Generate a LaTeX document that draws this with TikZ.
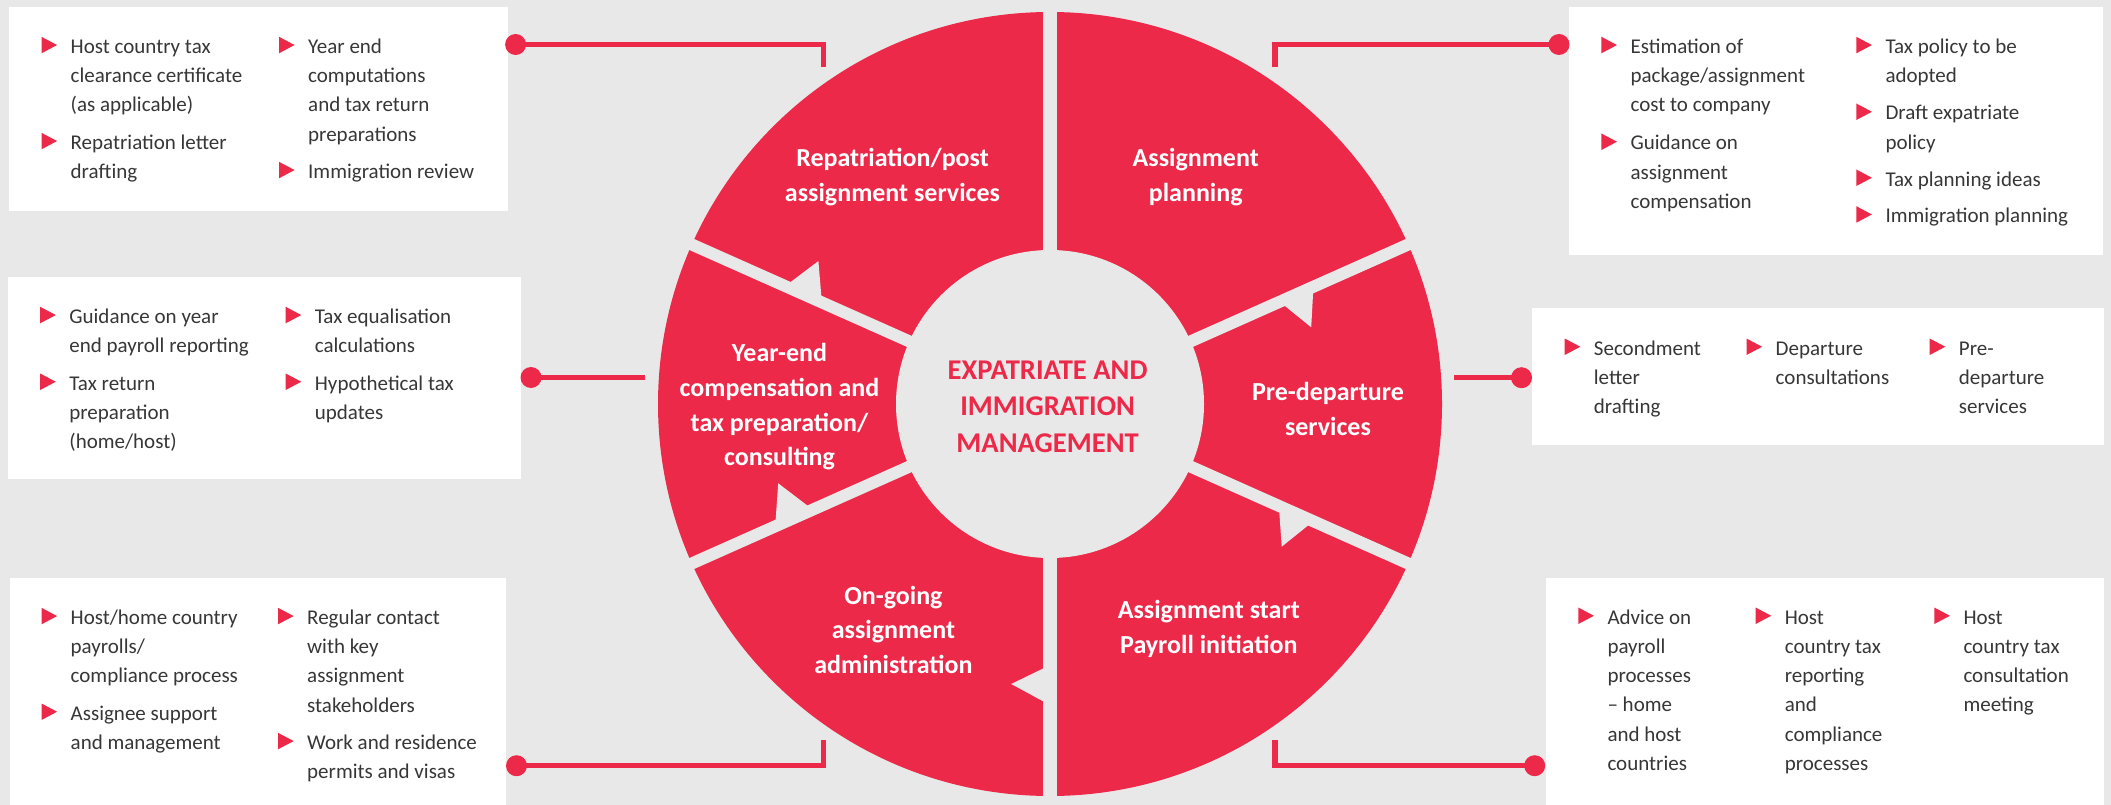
\documentclass[tikz,border=0pt]{standalone}
\usepackage{fontspec}
\setmainfont{Carlito}
\definecolor{bgc}{RGB}{232,232,232}
\definecolor{redc}{RGB}{236,41,73}
\definecolor{txt}{RGB}{55,55,55}
\tikzset{
  conn/.style={draw=redc, line width=5.5pt},
  dotc/.style={circle, fill=redc, minimum size=21pt, inner sep=0pt, outer sep=0pt},
  box/.style={fill=white, inner sep=0pt, outer sep=0pt, anchor=north west},
  seglabel/.style={text=white, inner sep=0pt, anchor=base},
  gapline/.style={draw=bgc, line width=#1},
}
\newcommand{\bitem}[4]{%
  \fill[redc] (#2-29,#3-16.5) -- (#2-29,#3) -- (#2-13.4,#3-8.25) -- cycle;
  \node[inner sep=0pt, anchor=base west, text=txt] (#1) at (#2,#3)
    {\parbox[t]{240pt}{\fontsize{21}{29.3}\selectfont\raggedright #4}};
}
\newcommand{\seglab}[4]{%
  \node[seglabel] (#1) at (#2,#3)
    {\parbox[t]{320pt}{\centering\fontsize{26}{34.7}\selectfont\bfseries #4}};
}
\begin{document}
\begin{tikzpicture}[x=1pt,y=-1pt]
\fill[bgc] (0,0) rectangle (2111,805);
\useasboundingbox (0,0) rectangle (2111,805);

% boxes
\node[box, minimum width=499pt, minimum height=204pt] (b1) at (9,7) {};
\node[box, minimum width=513pt, minimum height=202pt] (b2) at (8,277) {};
\node[box, minimum width=496pt, minimum height=228pt] (b3) at (9.8,577.5) {};
\node[box, minimum width=534pt, minimum height=248pt] (b4) at (1569,7) {};
\node[box, minimum width=572.5pt, minimum height=137pt] (b5) at (1531.5,308) {};
\node[box, minimum width=558pt, minimum height=228pt] (b6) at (1546,577.5) {};

% ring
\fill[redc] (1050,404) circle (392);
\fill[bgc] (1050,404) circle (154);
\coordinate (ctr) at (1050,404);
\draw[gapline=14pt] (ctr) -- ++(-90:405);
\draw[gapline=14pt] (ctr) -- ++(90:405);
\draw[gapline=12pt] (ctr) -- ++(-156:405);
\draw[gapline=12pt] (ctr) -- ++(156:405);
\draw[gapline=12pt] (ctr) -- ++(-24:405);
\draw[gapline=12pt] (ctr) -- ++(24:405);

% notches
\fill[bgc] (788.4,283.7) -- (818.4,261) -- (821.6,299.4) -- cycle;
\fill[bgc] (809.3,507) -- (778.2,483.3) -- (775.5,522) -- cycle;
\fill[bgc] (1046.8,666.7) -- (1011.2,684) -- (1046.8,703.3) -- cycle;
\fill[bgc] (1279,508) -- (1281.7,546.7) -- (1311.1,523) -- cycle;
\fill[bgc] (1281.2,303) -- (1311.2,327.3) -- (1313.3,289) -- cycle;

% segment labels
\seglab{s1}{892.5}{166.7}{Repatriation/post\\assignment services}
\seglab{s2}{1195.7}{166.7}{Assignment\\planning}
\seglab{s3}{779.5}{361.7}{Year-end\\compensation and\\tax preparation/\\consulting}
\seglab{s4}{1328}{400.7}{Pre-departure\\services}
\seglab{s5}{893.4}{604}{On-going\\assignment\\administration}
\seglab{s6}{1208.8}{618.3}{Assignment start\\Payroll initiation}

\node[inner sep=0pt, anchor=base, text=redc] (title) at (1047.6,379)
  {\parbox[t]{320pt}{\centering\fontsize{28.6}{36.5}\selectfont\bfseries EXPATRIATE AND\\IMMIGRATION\\MANAGEMENT}};

% connectors
\node[dotc] (d1) at (515.6,44.5) {};
\node[dotc] (d2) at (531,377.5) {};
\node[dotc] (d3) at (516.5,765.7) {};
\node[dotc] (d4) at (1559,44.5) {};
\node[dotc] (d5) at (1521.5,377.7) {};
\node[dotc] (d6) at (1534.7,765.7) {};
\coordinate (e1) at (823.7,67);
\coordinate (e2) at (645,377.5);
\coordinate (e3) at (823.7,740);
\coordinate (e4) at (1275,67);
\coordinate (e5) at (1454.4,377.7);
\coordinate (e6) at (1275,740);
\draw[conn] (d1.center) -| (e1);
\draw[conn] (d2.center) -- (e2);
\draw[conn] (d3.center) -| (e3);
\draw[conn] (d4.center) -| (e4);
\draw[conn] (d5.center) -- (e5);
\draw[conn] (d6.center) -| (e6);

% box 1
\bitem{t11}{70.5}{53.3}{Host country tax\\clearance certificate\\(as applicable)}
\bitem{t12}{70.5}{149.3}{Repatriation letter\\drafting}
\bitem{t13}{308}{53.3}{Year end\\computations\\and tax return\\preparations}
\bitem{t14}{308}{178.3}{Immigration review}
% box 2
\bitem{t21}{69.2}{323.3}{Guidance on year\\end payroll reporting}
\bitem{t22}{69.2}{390}{Tax return\\preparation\\(home/host)}
\bitem{t23}{314.7}{323.3}{Tax equalisation\\calculations}
\bitem{t24}{314.7}{390}{Hypothetical tax\\updates}
% box 3
\bitem{t31}{70.5}{624.3}{Host/home country\\payrolls/\\compliance process}
\bitem{t32}{70.5}{720}{Assignee support\\and management}
\bitem{t33}{307}{624.3}{Regular contact\\with key\\assignment\\stakeholders}
\bitem{t34}{307}{749.3}{Work and residence\\permits and visas}
% box 4
\bitem{t41}{1630.4}{53.3}{Estimation of\\package/assignment\\cost to company}
\bitem{t42}{1630.4}{150}{Guidance on\\assignment\\compensation}
\bitem{t43}{1885.3}{53.3}{Tax policy to be\\adopted}
\bitem{t44}{1885.3}{120}{Draft expatriate\\policy}
\bitem{t45}{1885.3}{186}{Tax planning ideas}
\bitem{t46}{1885.3}{222.7}{Immigration planning}
% box 5
\bitem{t51}{1593.7}{355}{Secondment\\letter\\drafting}
\bitem{t52}{1775.5}{355}{Departure\\consultations}
\bitem{t53}{1958.7}{355}{Pre-\\departure\\services}
% box 6
\bitem{t61}{1607.3}{624}{Advice on\\payroll\\processes\\– home\\and host\\countries}
\bitem{t62}{1784.6}{624}{Host\\country tax\\reporting\\and\\compliance\\processes}
\bitem{t63}{1963.3}{624}{Host\\country tax\\consultation\\meeting}
\end{tikzpicture}
\end{document}
